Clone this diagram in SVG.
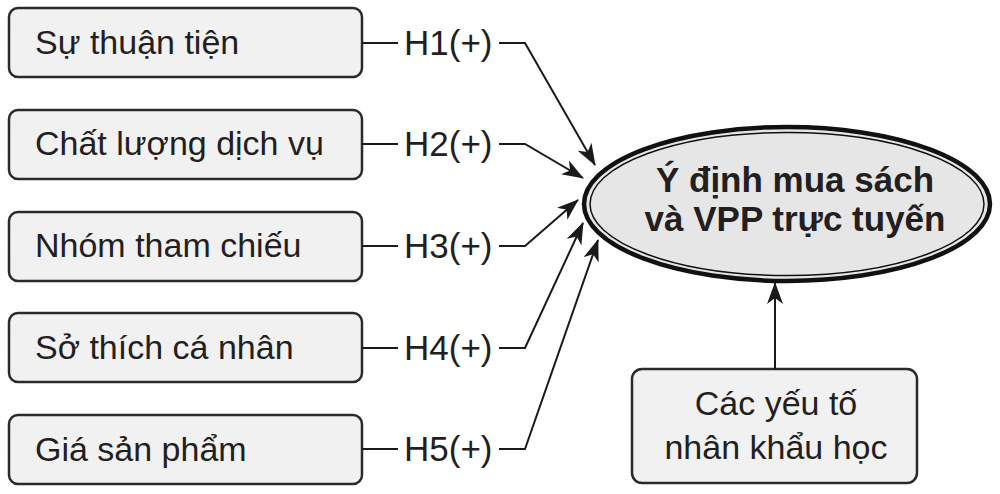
<svg xmlns="http://www.w3.org/2000/svg" width="1000" height="494" viewBox="0 0 1000 494">
  <style>
    .box { fill: #f1f1f1; stroke: #2a2a2a; stroke-width: 2.5; }
    .lbl { font-family: "Liberation Sans", Arial, sans-serif; font-size: 34px; fill: #231f20; }
    .hyp { font-family: "Liberation Sans", Arial, sans-serif; font-size: 35px; fill: #231f20; }
    .main { font-family: "Liberation Sans", Arial, sans-serif; font-size: 35px; font-weight: bold; fill: #231f20; text-anchor: middle; }
    .wire { fill: none; stroke: #1a1a1a; stroke-width: 2; }
    .arrow { marker-end: url(#head); }
  </style>
  <defs>
    <marker id="head" viewBox="0 0 22 16" refX="21" refY="8" markerWidth="22" markerHeight="16" markerUnits="userSpaceOnUse" orient="auto">
      <path d="M0,0 L22,8 L0,16 L6,8 Z" fill="#1a1a1a"/>
    </marker>
  </defs>

  <rect width="1000" height="494" fill="#ffffff"/>

  <!-- factor boxes -->
  <g id="node-thuan-tien">
    <rect class="box" x="9" y="8" width="353" height="69" rx="9"/>
    <text class="lbl" x="35" y="54">Sự thuận tiện</text>
  </g>
  <g id="node-chat-luong">
    <rect class="box" x="9" y="110" width="353" height="69" rx="9"/>
    <text class="lbl" x="35" y="155">Chất lượng dịch vụ</text>
  </g>
  <g id="node-nhom-tham-chieu">
    <rect class="box" x="9" y="212" width="353" height="69" rx="9"/>
    <text class="lbl" x="35" y="257">Nhóm tham chiếu</text>
  </g>
  <g id="node-so-thich">
    <rect class="box" x="9" y="313" width="353" height="69" rx="9"/>
    <text class="lbl" x="35" y="359">Sở thích cá nhân</text>
  </g>
  <g id="node-gia">
    <rect class="box" x="9" y="415" width="353" height="69" rx="9"/>
    <text class="lbl" x="35" y="461">Giá sản phẩm</text>
  </g>

  <!-- outcome ellipse with double outline -->
  <g id="node-y-dinh">
    <ellipse cx="787" cy="204" rx="203" ry="77" fill="#e6e6e6" stroke="#111111" stroke-width="4.5"/>
    <ellipse cx="787" cy="204" rx="197" ry="71.5" fill="none" stroke="#111111" stroke-width="1.5"/>
    <text class="main" x="795" y="192">Ý định mua sách</text>
    <text class="main" x="795" y="231">và VPP trực tuyến</text>
  </g>

  <!-- demographic box -->
  <g id="node-nhan-khau">
    <rect class="box" x="632" y="369" width="285" height="114" rx="10"/>
    <text class="lbl" x="776" y="415" text-anchor="middle">Các yếu tố</text>
    <text class="lbl" x="776" y="459" text-anchor="middle">nhân khẩu học</text>
  </g>

  <!-- connectors with hypothesis labels -->
  <g id="connectors">
    <line class="wire" x1="362" y1="43" x2="398" y2="43"/>
    <line class="wire" x1="362" y1="144" x2="398" y2="144"/>
    <line class="wire" x1="362" y1="246" x2="398" y2="246"/>
    <line class="wire" x1="362" y1="348" x2="398" y2="348"/>
    <line class="wire" x1="362" y1="449" x2="398" y2="449"/>

    <text class="hyp" x="404" y="55">H1(+)</text>
    <text class="hyp" x="404" y="156">H2(+)</text>
    <text class="hyp" x="404" y="258">H3(+)</text>
    <text class="hyp" x="404" y="360">H4(+)</text>
    <text class="hyp" x="404" y="461">H5(+)</text>

    <polyline class="wire arrow" points="499,43 525,43 595,165"/>
    <polyline class="wire arrow" points="499,144 525,144 583,178"/>
    <polyline class="wire arrow" points="499,246 525,246 578,200"/>
    <polyline class="wire arrow" points="499,348 525,348 583,223"/>
    <polyline class="wire arrow" points="499,449 525,449 598,240"/>
    <line class="wire arrow" x1="775" y1="369" x2="775" y2="283"/>
  </g>
</svg>
